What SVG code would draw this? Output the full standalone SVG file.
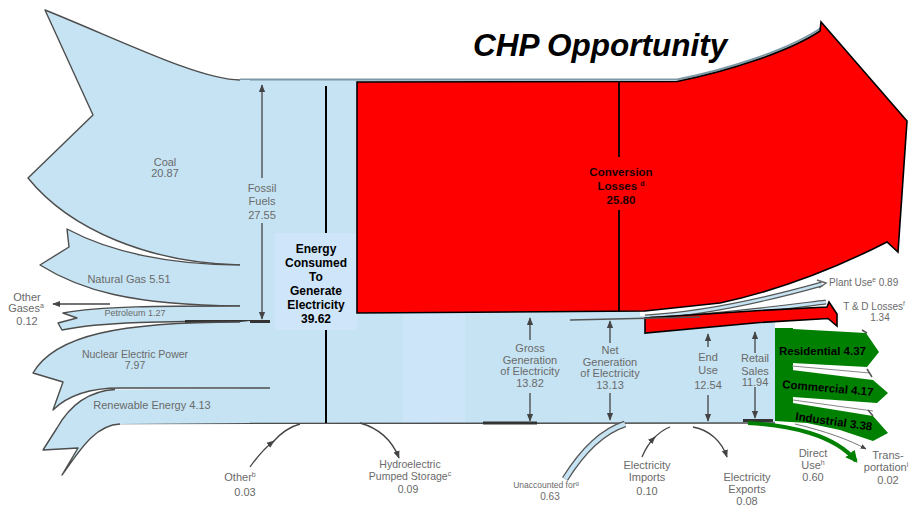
<svg xmlns="http://www.w3.org/2000/svg" width="915" height="508" viewBox="0 0 915 508">
<defs>
<style>
.bl{fill:#c5e3f2}
.ol{fill:none;stroke:#4d4d4d;stroke-width:1.4;stroke-linejoin:round}
.lb{font-family:"Liberation Sans",Arial,sans-serif;font-size:11px;fill:#6a6a6a;text-anchor:middle}
.sm{font-size:9px}
.bd{font-family:"Liberation Sans",Arial,sans-serif;font-weight:bold;font-size:12px;fill:#000;text-anchor:middle}
.gl{font-family:"Liberation Sans",Arial,sans-serif;font-weight:bold;font-size:11.5px;fill:#000}
.ar{fill:none;stroke:#444;stroke-width:1.3;marker-end:url(#ah)}
.gr{fill:#008000}
.red{fill:#ff0000;stroke:#000;stroke-width:1.6;stroke-linejoin:miter}
.thk{stroke:#333;stroke-width:3}
.gy{fill:none;stroke:#777;stroke-width:1;marker-end:url(#ah)}
</style>
<marker id="ah" viewBox="0 0 10 10" refX="9" refY="5" markerWidth="6" markerHeight="6" orient="auto"><path d="M0,1 L10,5 L0,9 Z" fill="#444"/></marker>
<marker id="ahg" viewBox="0 0 10 10" refX="8" refY="5" markerWidth="3" markerHeight="3" orient="auto"><path d="M0,0 L10,5 L0,10 Z" fill="#008000"/></marker>
</defs>
<rect width="915" height="508" fill="#fff"/>

<g id="main-body">
<path class="bl" d="M240,80 L640,80 L640,316 L775,322 L775,423 L240,423 Z"/>
<rect x="403" y="313" width="62" height="110" fill="#cde5f8"/>
<path d="M240,79.5 L677,79.5 C730,69 790,49 821,28" fill="none" stroke="#7d98a5" stroke-width="2"/>
<path class="ol" d="M115,423.5 L775,423"/>
<line class="thk" x1="483" y1="423" x2="537" y2="423"/>
<line class="thk" x1="743" y1="420.5" x2="773" y2="420.5"/>
<line x1="326" y1="86" x2="326" y2="423" stroke="#000" stroke-width="2"/>
</g>

<g id="coal">
<path class="bl" d="M45,10 C120,40 200,80 240,80 L250,80 L250,265 L240,265 C150,263 70,230 28,178 L93,115 Z"/>
<path class="ol" d="M240,80 C200,80 120,40 45,10 L93,115 L28,178 C70,230 150,263 240,265"/>
<text class="lb" x="165" y="166">Coal</text>
<text class="lb" x="165" y="177">20.87</text>
</g>

<g id="natural-gas">
<path class="bl" d="M67,229 C110,252 170,265 240,265 L250,265 L250,306 L240,306 C130,305 80,290 40,265 L69,247 Z"/>
<path class="ol" d="M240,265 C170,265 110,252 67,229 L69,247 L40,265 C80,290 130,305 240,306"/>
<text class="lb" x="129" y="283">Natural Gas 5.51</text>
</g>

<g id="petroleum">
<path class="bl" d="M63,313 C100,306 160,306 240,306 L250,306 L250,321 L240,321 C160,321 100,322 62,330 L58,323 L77,318 Z"/>
<path class="ol" d="M240,306 C160,306 100,306 63,313 L77,318 L58,323 L62,330 C100,322 160,321 270,321"/>
<line class="thk" x1="185" y1="321.5" x2="270" y2="321.5" stroke-width="2.5"/>
<text class="lb sm" x="135" y="316" fill="#555">Petroleum 1.27</text>
</g>

<g id="other-gases">
<text class="lb" x="27" y="301">Other</text>
<text class="lb" x="26" y="312">Gases<tspan font-size="7" dy="-4">a</tspan></text>
<text class="lb" x="27" y="325">0.12</text>
</g>

<g id="nuclear">
<path class="bl" d="M250,321 L240,322 C120,322 55,335 33,373 L63,382 L53,410 C65,398 85,388 120,388 L250,388 Z"/>
<path class="ol" d="M240,322 C120,322 55,335 33,373 L63,382 L53,410 C65,398 85,388 120,388 L270,388"/>
<text class="lb" x="135" y="358" style="font-size:10.5px">Nuclear Electric Power</text>
<text class="lb" x="135" y="369" style="font-size:10.5px">7.97</text>
</g>

<g id="renewable">
<path class="bl" d="M250,389 L115,389.5 C90,391 70,405 57,428 L43,450 L78,448 L62,475 C80,450 95,425 120,424 L250,423 Z"/>
<path class="ol" d="M115,389.5 C90,391 70,405 57,428 L43,450 L78,448 L62,475 C80,450 95,425 120,424"/>
<text class="lb" x="152" y="409">Renewable Energy 4.13</text>
</g>

<g id="fossil-fuels">
<text class="lb" x="262" y="192">Fossil</text>
<text class="lb" x="262" y="205">Fuels</text>
<text class="lb" x="262" y="219">27.55</text>
</g>

<g id="energy-consumed">
<rect x="275" y="233" width="82" height="97" fill="#cfe6fa"/>
<text class="bd" x="316" y="253">Energy</text>
<text class="bd" x="316" y="267">Consumed</text>
<text class="bd" x="316" y="281">To</text>
<text class="bd" x="316" y="295">Generate</text>
<text class="bd" x="316" y="309">Electricity</text>
<text class="bd" x="316" y="323">39.62</text>
</g>

<g id="plant-use">
<path d="M645,317 C700,314 765,300 822,284" fill="none" stroke="#555" stroke-width="5"/>
<path d="M645,317 C700,314 765,300 822,284" fill="none" stroke="#c5e3f2" stroke-width="2.6"/>
<path d="M817,280 L826,283 L819,288" fill="none" stroke="#666" stroke-width="1.5"/>
<text class="lb" x="829" y="286" style="text-anchor:start;font-size:10px">Plant Use<tspan font-size="6.5" dy="-4">e</tspan><tspan dy="4"> 0.89</tspan></text>
</g>

<g id="td-losses">
<path d="M650,319 C720,316 785,307 826,302" fill="none" stroke="#555" stroke-width="5"/>
<path d="M650,319 C720,316 785,307 826,302" fill="none" stroke="#c5e3f2" stroke-width="2.6"/>
<text class="lb" x="874" y="310" style="font-size:10px">T &amp; D Losses<tspan font-size="6.5" dy="-4">f</tspan></text>
<text class="lb" x="880" y="321" style="font-size:10px">1.34</text>
</g>

<g id="conversion-losses">
<path class="red" d="M357,82 L677,81.5 C730,71 790,51 820,31 L821,22 L907,121 L898,252 L887,242 C840,266 780,290 720,303 L645,311 L357,313 Z"/>
<line x1="619" y1="82" x2="619" y2="157" stroke="#000" stroke-width="1.8"/>
<line x1="619" y1="210" x2="619" y2="312" stroke="#000" stroke-width="1.8"/>
<text class="bd" x="621" y="176" style="font-size:11.5px;fill:#1a0000">Conversion</text>
<text class="bd" x="621" y="190" style="font-size:11.5px;fill:#1a0000">Losses<tspan font-size="7" dx="3" dy="-4">d</tspan></text>
<text class="bd" x="621" y="204" style="font-size:11.5px;fill:#1a0000">25.80</text>
</g>

<g id="chp-arrow">
<path class="red" d="M645,318 L760,310.5 L827,307 L829,302 L837,314 L837,326 L828,318.5 L760,322.5 L645,333 Z"/>
</g>

<g id="title">
<text x="473" y="56" font-family="Liberation Sans, Arial, sans-serif" font-weight="bold" font-style="italic" font-size="31.5" fill="#000">CHP Opportunity</text>
</g>

<g id="gross-generation">
<text class="lb" x="530" y="352">Gross</text>
<text class="lb" x="530" y="364">Generation</text>
<text class="lb" x="530" y="375">of Electricity</text>
<text class="lb" x="530" y="387">13.82</text>
</g>
<g id="net-generation">
<text class="lb" x="610" y="354">Net</text>
<text class="lb" x="610" y="366">Generation</text>
<text class="lb" x="610" y="377">of Electricity</text>
<text class="lb" x="610" y="389">13.13</text>
</g>
<g id="end-use">
<text class="lb" x="708" y="361">End</text>
<text class="lb" x="708" y="374">Use</text>
<text class="lb" x="708" y="389">12.54</text>
</g>
<g id="retail-sales">
<text class="lb" x="755" y="362">Retail</text>
<text class="lb" x="755" y="375">Sales</text>
<text class="lb" x="755" y="386">11.94</text>
</g>

<g id="sectors">
<rect class="gr" x="775" y="328" width="18" height="93"/>
<path class="gr" d="M775,328 L866,333 L879,352 L867,367 L792,363 L775,363 Z"/>
<path class="gr" d="M775,368 L792,370 L873,380 L888,393 L877,403 L793,397 L775,397 Z"/>
<path class="gr" d="M775,400 L793,403 L873,416 L888,433 L873,441 L840,430 L807,423 L775,421 Z"/>
<path d="M792,366 L870,373" fill="none" stroke="#888" stroke-width="1"/>
<path d="M793,400 L873,411" fill="none" stroke="#888" stroke-width="1"/>
<path d="M862,330 L867,333 M867,369 L872,377 M868,410 L873,416" fill="none" stroke="#555" stroke-width="1.5"/>
<text class="gl" x="779" y="355">Residential 4.37</text>
<text class="gl" x="782" y="388" transform="rotate(5 782 388)">Commercial 4.17</text>
<text class="gl" x="795" y="420" transform="rotate(8 795 420)">Industrial 3.38</text>
</g>

<g id="direct-use">
<path d="M795,424 C825,431 850,440 866,449" class="gy"/>
<path d="M748,423 C790,425 835,435 856,461" fill="none" stroke="#008000" stroke-width="4" marker-end="url(#ahg)"/>
<text class="lb" x="813" y="457">Direct</text>
<text class="lb" x="813" y="469">Use<tspan font-size="7" dy="-4">h</tspan></text>
<text class="lb" x="813" y="481">0.60</text>
</g>
<g id="transportation">
<text class="lb" x="888" y="459">Trans-</text>
<text class="lb" x="886" y="471">portation<tspan font-size="7" dy="-4">i</tspan></text>
<text class="lb" x="888" y="484">0.02</text>
</g>

<g id="unaccounted">
<path d="M565,479 C580,455 600,432 625,424" fill="none" stroke="#555" stroke-width="7"/>
<path d="M565,479 C580,455 600,432 625,424" fill="none" stroke="#c5e3f2" stroke-width="4.4"/>
<text class="lb sm" x="546" y="488" style="font-size:8.5px">Unaccounted for<tspan font-size="6" dy="-3">g</tspan></text>
<text class="lb" x="550" y="500" style="font-size:10px">0.63</text>
</g>
<g id="other">
<text class="lb" x="240" y="481">Other<tspan font-size="7" dy="-4">b</tspan></text>
<text class="lb" x="245" y="496">0.03</text>
</g>
<g id="hydro">
<text class="lb" x="410" y="468" style="font-size:10.5px">Hydroelectric</text>
<text class="lb" x="410" y="480" style="font-size:10.5px">Pumped Storage<tspan font-size="7" dy="-4">c</tspan></text>
<text class="lb" x="408" y="493" style="font-size:10.5px">0.09</text>
</g>
<g id="imports">
<text class="lb" x="647" y="469">Electricity</text>
<text class="lb" x="647" y="481">Imports</text>
<text class="lb" x="647" y="495">0.10</text>
</g>
<g id="exports">
<text class="lb" x="747" y="481">Electricity</text>
<text class="lb" x="747" y="493">Exports</text>
<text class="lb" x="747" y="505">0.08</text>
</g>

<g id="connectors">
<path class="ar" d="M262,178 L262,85"/>
<path class="ar" d="M262,223 L262,319"/>
<path class="ar" d="M110,304 L53,304"/>
<path class="ar" d="M530,340 L530,318"/>
<path class="ar" d="M530,393 L530,421"/>
<path class="ar" d="M610,343 L610,321"/>
<path class="ar" d="M610,393 L610,420"/>
<path class="ar" d="M708,347 L708,334"/>
<path class="ar" d="M708,395 L708,421"/>
<path class="ar" d="M755,353 L755,332"/>
<path class="ar" d="M755,387 L755,418"/>
<path class="ar" d="M250,467 Q262,450 274,441"/>
<path d="M273,442 Q285,428 300,424" fill="none" stroke="#444" stroke-width="1.3"/>
<path class="ar" d="M360,423 C378,428 392,440 399,458"/>
<path class="ar" d="M642,457 Q647,445 655,437"/>
<path d="M654,438 Q662,430 670,427" fill="none" stroke="#444" stroke-width="1.3"/>
<path class="ar" d="M693,427 C710,430 722,442 727,457"/>
<path d="M570,320 L700,317" fill="none" stroke="#555" stroke-width="1.4"/>
</g>
</svg>
